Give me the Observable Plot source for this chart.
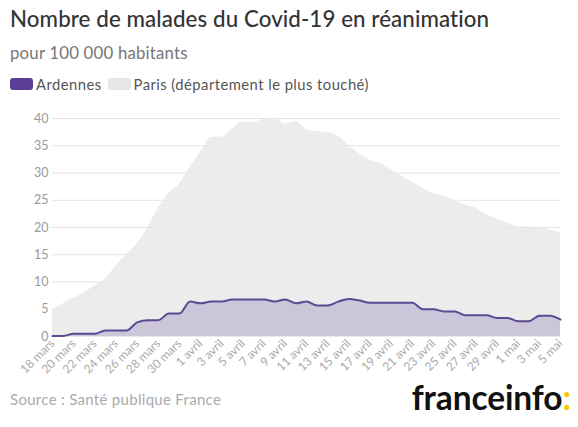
<!DOCTYPE html>
<html>
<head>
<meta charset="utf-8">
<script src="https://cdn.jsdelivr.net/npm/d3@7"></script>
<script src="https://cdn.jsdelivr.net/npm/@observablehq/plot@0.6"></script>
<style>
  body { margin: 0; background: #fff; font-family: Lato, "Noto Sans", sans-serif; width: 578px; height: 427px; position: relative; overflow: hidden; }
  .title { position: absolute; left: 10px; top: 5px; font-size: 22.3px; color: #333; font-weight: 500; letter-spacing: 0.1px; }
  .subtitle { position: absolute; left: 10px; top: 42px; font-size: 16.8px; color: #777; letter-spacing: 0.2px; }
  .legend { position: absolute; left: 10px; top: 75px; font-size: 14.8px; color: #555; display: flex; align-items: center; letter-spacing: 0.45px; }
  .sw { display: inline-block; width: 23px; height: 12px; border-radius: 3px; margin-right: 3px; }
  .source { position: absolute; left: 10px; top: 390px; font-size: 15px; color: #aaa; letter-spacing: 0.3px; }
  .logo { position: absolute; right: 7px; top: 377px; font-size: 33.5px; font-weight: 700; color: #111; letter-spacing: -0.1px; }
  .logo span { color: #f6c700; }
  #chart { position: absolute; left: 0; top: 100px; }
</style>
</head>
<body>
<div class="title">Nombre de malades du Covid-19 en réanimation</div>
<div class="subtitle">pour 100 000 habitants</div>
<div class="legend">
  <span class="sw" style="background:#5b3f97"></span><span style="margin-right:6px">Ardennes</span>
  <span class="sw" style="background:#e6e6e6"></span><span>Paris (département le plus touché)</span>
</div>
<div id="chart"></div>
<div class="source">Source : Santé publique France</div>
<div class="logo">franceinfo<span>:</span></div>
<script>
const startDate = "2020-03-18";
const monthNames = ["janv.", "févr.", "mars", "avril", "mai", "juin"];
const yTicks = [0, 5, 10, 15, 20, 25, 30, 35, 40];

const paris = [4.9, 6.0, 7.0, 8.0, 9.3, 10.6, 13.0, 15.0, 17.0, 20.0,
  23.5, 26.3, 28.0, 31.0, 33.8, 36.5, 36.6, 38.0, 39.3, 39.3,
  39.8, 40.0, 39.0, 39.4, 38.0, 37.6, 37.4, 36.8, 35.0, 33.5,
  32.4, 31.7, 30.6, 29.4, 28.3, 27.2, 26.2, 25.8, 25.0, 24.1,
  23.6, 22.4, 21.6, 20.8, 20.1, 20.1, 20.0, 19.6, 19.0];

const ardennes = [0.1, 0.1, 0.5, 0.5, 0.5, 1.1, 1.1, 1.1, 2.6, 3.0,
  3.0, 4.2, 4.2, 6.4, 6.1, 6.4, 6.4, 6.8, 6.8, 6.8,
  6.8, 6.4, 6.8, 6.1, 6.4, 5.7, 5.7, 6.4, 6.9, 6.6,
  6.2, 6.2, 6.2, 6.2, 6.2, 5.0, 5.0, 4.6, 4.6, 3.9,
  3.9, 3.9, 3.4, 3.4, 2.8, 2.8, 3.8, 3.8, 3.1];

const d0 = new Date(startDate + "T00:00:00Z");
const dates = paris.map((_, i) => d3.utcDay.offset(d0, i));
const data = dates.map((d, i) => ({date: d, paris: paris[i], ardennes: ardennes[i]}));
const xTicks = dates.filter((_, i) => i % 2 === 0);
const fmt = d => `${d.getUTCDate()} ${monthNames[d.getUTCMonth()]}`;

const chart = Plot.plot({
  width: 578,
  height: 290,
  marginLeft: 52,
  marginRight: 18,
  marginTop: 18,
  marginBottom: 54,
  style: {fontFamily: "Lato, 'Noto Sans', sans-serif", background: "transparent"},
  x: {type: "utc", domain: [dates[0], dates[dates.length - 1]]},
  y: {domain: [0, 40]},
  marks: [
    Plot.ruleY(yTicks, {stroke: "#e9e9e9", strokeWidth: 1}),
    Plot.areaY(data, {x: "date", y: "paris", fill: "#ececec", curve: "monotone-x"}),
    Plot.ruleY(yTicks.filter(t => t > 0), {stroke: "#000", strokeOpacity: 0.025, strokeWidth: 1}),
    Plot.areaY(data, {x: "date", y: "ardennes", fill: "#cbc6da", curve: "monotone-x"}),
    Plot.lineY(data, {x: "date", y: "ardennes", stroke: "#5b4a93", strokeWidth: 2, curve: "monotone-x"}),
    Plot.axisY(yTicks, {tickSize: 0, tickPadding: 4, fontSize: 12.5, fill: "#999", label: null}),
    Plot.axisX(xTicks, {tickSize: 0, tickPadding: 5, tickRotate: -45, tickFormat: fmt, fontSize: 12, fill: "#aaa", label: null})
  ]
});
document.getElementById("chart").appendChild(chart);
</script>
</body>
</html>
